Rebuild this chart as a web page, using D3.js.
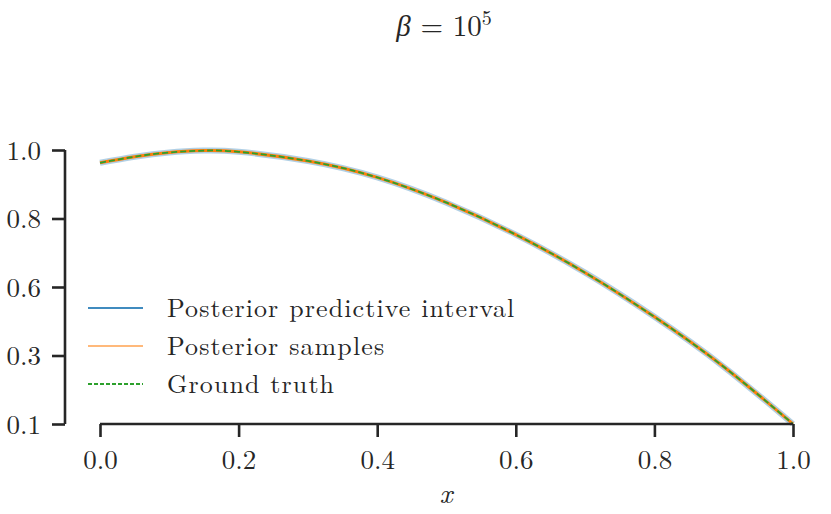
<!DOCTYPE html>
<html>
<head>
<meta charset="utf-8">
<script src="https://cdn.jsdelivr.net/npm/d3@7"></script>
<style>
  body { margin: 0; background: #fff; }
  svg text { font-family: "Latin Modern Roman", "CMU Serif", "Liberation Serif", serif; fill: #262626; }
</style>
</head>
<body>
<svg id="chart" width="831" height="514"></svg>
<script>
// values
const xs = [0, 0.05, 0.1, 0.15, 0.2, 0.3, 0.4, 0.5, 0.6, 0.7, 0.8, 0.9, 1.0];
const ys = [0.958, 0.978, 0.992, 0.998, 0.994, 0.964, 0.91, 0.827, 0.722, 0.597, 0.452, 0.288, 0.1];
const xTicks = [0, 0.2, 0.4, 0.6, 0.8, 1.0];
const yTicks = [0.1, 0.325, 0.55, 0.775, 1.0];
const yTickLabels = ["0.1", "0.3", "0.6", "0.8", "1.0"];
const legendNames = ["Posterior predictive interval", "Posterior samples", "Ground truth"];

const colors = { blue: '#1f77b4', orange: '#ff7f0e', green: '#2ca02c', axis: '#262626' };

const svg = d3.select('#chart');
const x = d3.scaleLinear().domain([0, 1]).range([100, 793]);
const y = d3.scaleLinear().domain([0.1, 1.0]).range([424, 150]);

const pts = xs.map((d, i) => [d, ys[i]]);
const line = d3.line().x(d => x(d[0])).y(d => y(d[1])).curve(d3.curveNatural);

// interval band (very thin at this beta)
svg.append('path').attr('d', line(pts))
    .attr('fill', 'none').attr('stroke', colors.blue).attr('stroke-opacity', 0.35)
    .attr('stroke-width', 6);
// posterior samples
svg.append('path').attr('d', line(pts))
    .attr('fill', 'none').attr('stroke', colors.orange).attr('stroke-width', 3);
// ground truth
svg.append('path').attr('d', line(pts))
    .attr('fill', 'none').attr('stroke', colors.green).attr('stroke-width', 1.8)
    .attr('stroke-dasharray', '6,3');

// axes
const xAxis = svg.append('g').attr('transform', 'translate(0,424)')
    .call(d3.axisBottom(x).tickValues(xTicks).tickFormat(d3.format('.1f')).tickSize(13).tickPadding(13));
const yAxis = svg.append('g').attr('transform', 'translate(65,0)')
    .call(d3.axisLeft(y).tickValues(yTicks).tickFormat((d, i) => yTickLabels[i]).tickSize(13).tickPadding(11));

[xAxis, yAxis].forEach(g => {
    g.select('.domain').attr('stroke', colors.axis).attr('stroke-width', 2.6);
    g.selectAll('.tick line').attr('stroke', colors.axis).attr('stroke-width', 2.6);
    g.selectAll('.tick text').style('font-size', '27px').attr('fill', colors.axis);
});
xAxis.select('.domain').attr('d', `M${x(0)},0H${x(1)}`);
yAxis.select('.domain').attr('d', `M0,${y(1.0)}V${y(0.1)}`);
yAxis.selectAll('.tick text').attr('dy', '0.34em');

// labels
svg.append('text').attr('x', 446).attr('y', 503).attr('text-anchor', 'middle')
    .style('font-size', '28px').style('font-style', 'italic').text('x');

const title = svg.append('text').attr('x', 444).attr('y', 36).attr('text-anchor', 'middle')
    .style('font-size', '29px');
title.append('tspan').style('font-style', 'italic').text('β');
title.append('tspan').text(' = 10');
title.append('tspan').attr('dy', -11).style('font-size', '20px').text('5');

// legend
const legend = svg.append('g');
const styles = [
    { c: colors.blue, o: 0.85, dash: null },
    { c: colors.orange, o: 0.55, dash: null },
    { c: colors.green, o: 1, dash: '4,2' }
];
legendNames.forEach((name, i) => {
    const yy = 308 + i * 38;
    legend.append('line').attr('x1', 88).attr('x2', 143).attr('y1', yy).attr('y2', yy)
        .attr('stroke', styles[i].c).attr('stroke-opacity', styles[i].o).attr('stroke-width', 1.8)
        .attr('stroke-dasharray', styles[i].dash);
    legend.append('text').attr('x', 167).attr('y', yy + 9).style('font-size', '26px')
        .style('letter-spacing', '1.1px').text(name);
});
</script>
</body>
</html>
